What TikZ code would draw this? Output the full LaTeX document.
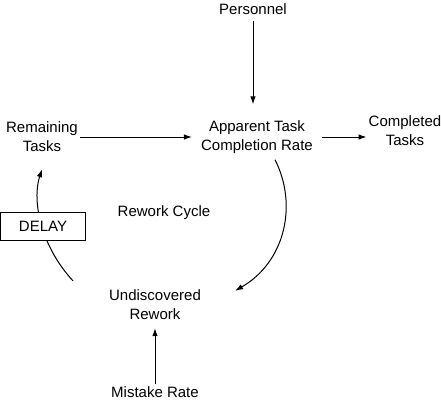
\documentclass[tikz,border=0pt]{standalone}
\usepackage{fontspec}
\setmainfont{Liberation Sans}
\usetikzlibrary{
    arrows.meta,
    calc,
    positioning
}

\begin{document}
\begin{tikzpicture}[x=1pt, y=-1pt,
        every node/.style={font=\fontsize{15}{19}\selectfont, align=center, inner sep=0pt},
        flow/.style={draw, line width=1pt, -{Latex[length=8pt,width=5.5pt]}},
        delaybox/.style={draw, line width=1pt, fill=white, minimum width=85pt, minimum height=28pt}]

        \useasboundingbox (0,0) rectangle (441,400);

        \node (personnel) at (253,9) {Personnel};
        \node (apparent) at (257,137) {Apparent Task\\Completion Rate};
        \node (remaining) at (42,137) {Remaining\\Tasks};
        \node (completed) at (405,131) {Completed\\Tasks};
        \node (cycle) at (164,213) {Rework Cycle};
        \node (undiscovered) at (155,305) {Undiscovered\\Rework};
        \node (mistake) at (155,392) {Mistake Rate};

        % flows into and out of the task rate
        \draw[flow] ($(personnel.south)+(0,6)$) -- ($(personnel.south |- apparent.north)+(0,-16)$);
        \draw[flow] ($(remaining.east)+(2,0)$) -- ($(apparent.west)+(-9,0)$);
        \draw[flow] ($(apparent.east)+(9,0)$) -- ($(completed.west)+(-2,6)$);
        \draw[flow] ($(mistake.north)+(0,-2)$) -- ($(undiscovered.south)+(0,8)$);

        % the rework loop, with the delay box on top
        \draw[flow] ($(apparent.south)+(18,6)$) .. controls (298,205) and (285,262) .. ($(undiscovered.north east)+(34,1)$);
        \draw[flow] ($(undiscovered.north west)+(-36,-9)$) .. controls (40,245) and (32,200) .. ($(remaining.south)+(0,17)$);
        \node[delaybox] (delay) at (43,226) {DELAY};
    \end{tikzpicture}
\end{document}
